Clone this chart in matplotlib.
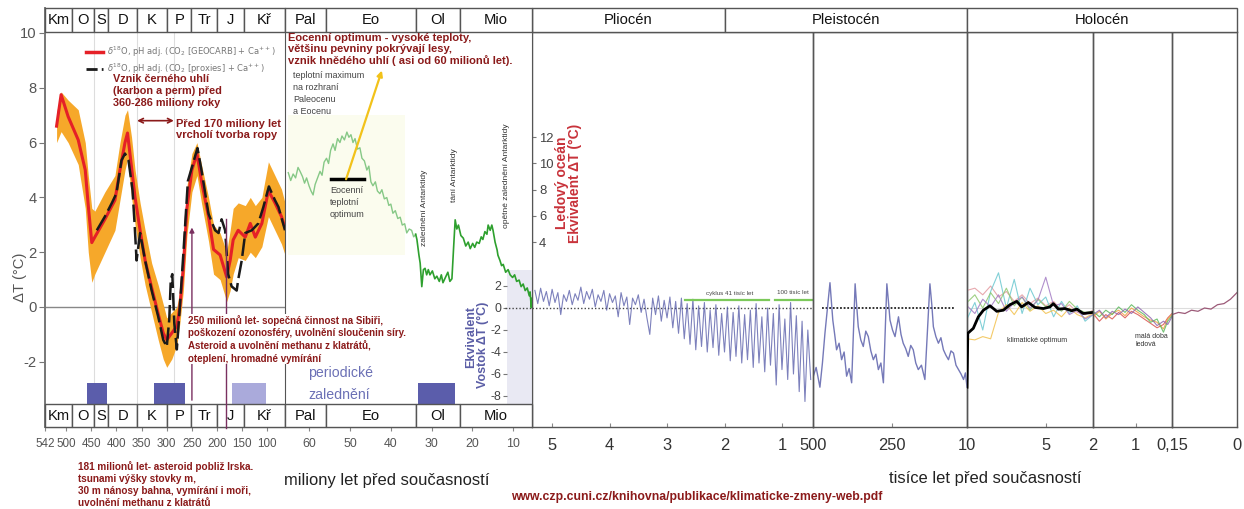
import matplotlib
matplotlib.use("Agg")
import matplotlib.pyplot as plt
import numpy as np
from matplotlib import font_manager as fm
from matplotlib.lines import Line2D
from matplotlib.patches import Rectangle
from matplotlib.transforms import blended_transform_factory

W, H = 1244, 509
plt.rcParams["axes.unicode_minus"] = False

# ---------------- data ----------------
# Phanerozoic panel (Ma, delta T in deg C)
PERIOD_EDGES = [542, 488, 444, 416, 359, 299, 251, 200, 146, 65]
PERIODS = ["Km", "O", "S", "D", "K", "P", "Tr", "J", "Kř"]
P1_TICKS = [542, 500, 450, 400, 350, 300, 250, 200, 150, 100]

RED_MA = [519, 510, 496, 476, 462, 456, 449, 443, 423, 403,
          393, 383, 378, 370, 363, 353, 343, 330, 317, 307,
          300, 290, 280, 274, 267, 260, 250, 240, 231, 217,
          207, 194, 181, 174, 168, 158, 144, 134, 124, 111,
          98, 85, 72, 65]
RED_T = [6.6, 7.75, 6.95, 6.1, 5.0, 3.7, 2.35, 2.55, 3.2, 3.9,
         5.0, 6.0, 6.35, 5.1, 4.0, 2.8, 1.7, 0.7, -0.25, -0.95,
         -1.2, -0.95, -0.7, 0.0, 1.45, 3.6, 5.0, 5.6, 4.6, 3.3,
         2.1, 1.9, 1.1, 1.7, 2.45, 2.8, 2.55, 3.05, 2.55, 3.05,
         4.25, 3.8, 3.3, 2.9]
BAND_HI = [7.1, 7.85, 7.55, 7.2, 6.0, 4.8, 3.6, 3.5, 4.2, 4.8,
           6.0, 7.0, 7.2, 6.2, 5.0, 3.8, 2.8, 1.6, 0.8, 0.1,
           -0.4, -0.2, 0.0, 0.6, 2.3, 4.4, 5.6, 6.0, 5.2, 4.0,
           3.0, 2.7, 2.0, 2.8, 3.6, 3.8, 3.7, 4.0, 3.7, 4.0,
           5.3, 4.8, 4.3, 3.8]
BAND_LO = [6.0, 6.4, 6.0, 5.2, 3.6, 2.0, 0.9, 1.2, 2.0, 2.8,
           3.9, 5.0, 5.4, 4.0, 3.0, 1.8, 0.8, -0.2, -1.2, -1.9,
           -2.2, -1.9, -1.4, -0.6, 0.6, 2.6, 4.2, 4.8, 3.8, 2.4,
           1.2, 1.0, 0.2, 0.6, 1.2, 1.8, 1.7, 2.0, 1.8, 2.2,
           3.3, 2.8, 2.3, 1.9]
BLK_MA = [439, 423, 409, 400, 390, 383, 376, 368, 364, 360,
          353, 343, 330, 317, 307, 300, 295, 292, 289, 285,
          280, 274, 267, 258, 250, 239, 231, 217, 204, 197,
          191, 184, 178, 171, 161, 158, 151, 144, 131, 118,
          108, 97, 85, 78, 65]
BLK_T = [2.8, 3.3, 3.8, 4.15, 5.35, 5.6, 5.35, 4.25, 3.05, 1.7,
         2.7, 1.7, 0.6, -0.35, -1.2, -1.45, -0.45, 1.0, 1.2, -0.6,
         -1.55, 0.0, 1.95, 4.6, 5.1, 5.8, 5.0, 3.4, 2.8, 2.7,
         3.2, 2.8, 1.2, 0.75, 0.6, 1.0, 1.7, 2.7, 2.8, 3.05,
         3.65, 4.4, 3.9, 3.65, 2.8]
GLACIAL_P1 = [(458, 419, "#5b5dab"), (325, 264, "#5b5dab"), (170, 103, "#aaaadb")]

# Cenozoic panel (Ma, deep ocean delta T)
EPOCH2_EDGES = [66, 56, 33.9, 23, 5.33]
EPOCHS2 = ["Pal", "Eo", "Ol", "Mio"]
P2_TICKS = [60, 50, 40, 30, 20, 10]
GREEN_MA = [65.2, 64.6, 64.0, 63.4, 62.8, 62.3, 61.7, 61.2, 60.7, 60.1,
            59.6, 59.1, 58.6, 58.0, 57.4, 56.9, 56.4, 55.8, 55.3, 54.8,
            54.2, 53.7, 53.1, 52.5, 52.0, 51.4, 50.8, 50.3, 49.8, 49.3,
            48.8, 48.2, 47.6, 47.1, 46.5, 45.9, 45.4, 44.9, 44.4, 43.8,
            43.3, 42.7, 42.2, 41.6, 41.0, 40.5, 40.0, 39.5, 38.9, 38.3,
            37.7, 37.2, 36.6, 36.1, 35.5, 34.9, 34.4, 33.9,
            33.6, 33.1, 32.8, 32.4, 32.0, 31.6, 31.2, 30.8, 30.4, 29.8,
            29.2, 28.7, 28.1, 27.6, 27.2, 26.6, 26.0, 25.5, 25.0, 24.6,
            24.2, 23.8, 23.4, 22.8, 22.2, 21.6, 21.0, 20.5, 19.9, 19.4,
            18.9, 18.3, 17.8, 17.4, 16.9, 16.4, 16.1, 15.6, 15.2, 14.9,
            14.4, 13.9, 13.7, 13.2, 12.8, 12.4, 11.8, 11.2, 10.7, 10.1,
            9.6, 9.1, 8.5, 8.0, 7.5, 7.0, 6.5, 6.0, 5.8, 5.5, 5.4]
GREEN_T = [9.3, 8.7, 9.2, 8.9, 9.7, 9.4, 9.0, 8.5, 8.9, 8.3,
           7.9, 7.6, 8.4, 8.9, 9.4, 9.1, 10.1, 10.4, 10.0, 11.0,
           11.5, 11.0, 11.9, 11.6, 12.1, 11.8, 12.4, 12.0, 12.2, 11.6,
           11.9, 11.1, 11.2, 10.4, 10.2, 9.5, 9.8, 8.6, 8.3, 8.6,
           7.9, 7.7, 8.0, 7.3, 7.4, 6.8, 6.9, 6.2, 6.4, 5.8,
           5.9, 5.3, 5.4, 4.7, 5.0, 4.9, 4.4, 4.6,
           4.2, 3.0, 2.4, 0.6, 1.9, 2.0, 1.5, 1.9, 1.5, 1.8,
           1.2, 1.4, 1.0, 1.5, 0.9, 1.3, 1.7, 1.0, 1.2, 3.5,
           5.7, 5.0, 5.3, 4.5, 4.3, 3.7, 4.0, 3.5, 3.9, 3.6,
           4.0, 3.9, 4.4, 4.2, 4.8, 4.6, 5.3, 4.9, 5.3, 4.9,
           4.0, 3.4, 3.0, 2.6, 2.2, 2.3, 1.7, 1.9, 1.5, 1.3,
           1.5, 1.0, 1.1, 0.6, 0.8, 0.3, 0.5, -0.1, 0.2, -1.0, -0.3]
N_PALE = 58  # points before the Oligocene glaciation (drawn paler)
OCEAN_TICKS = [4, 6, 8, 10, 12]
VOSTOK_TICKS = [2, 0, -2, -4, -6, -8]
GLACIAL_P2 = (33.3, 24.2)

# Pliocene / early Pleistocene (Ma, Vostok-equivalent delta T)
P3_TICKS = [5, 4, 3, 2, 1]
PLIO_T = [1.6, 0.4, 1.8, 0.6, 1.5, 0.2, 1.7, 0.5, 1.4, -0.6,
          1.2, 0.6, 1.6, 0.3, 1.3, 0.7, 1.9, 0.4, 1.5, 0.8,
          1.7, 0.1, 1.2, 0.6, 1.6, -0.2, 1.3, 0.5, 1.1, -0.8,
          1.4, 0.2, 1.0, -1.5, 0.9, 0.3, 1.2, -0.4, 0.8, -0.9,
          -2.4, 0.9, -0.6, 1.1, -1.2, 0.7, -0.9, 1.0, -1.8, 0.6,
          -2.3, 0.9, -2.8, 0.4, -3.3, 0.8, -3.8, 0.2, -3.5, 0.5,
          -4.0, -0.2, -3.6, 0.3, -4.3, -0.5, -4.0, 0.1, -4.8, -0.4,
          -4.4, 0.2, -5.0, -0.6, -4.7, -0.2, -5.4, 0.4, -5.0, -0.8,
          -5.8, 0.0, -5.2, -0.5, -7.0, 0.3, -5.6, -1.0, -6.5, 0.5,
          -6.0, -0.7, -7.6, -1.2, -8.5, -2.0, -6.5]

# Late Pleistocene (ka, Vostok delta T)
P4_TICKS = [500, 250]
P4_KA = [499, 490, 478, 470, 462, 446, 441, 437, 431, 425,
         417, 409, 401, 393, 385, 377, 366, 361, 356, 348,
         340, 332, 324, 316, 308, 300, 292, 284, 276, 265,
         260, 255, 247, 239, 228, 220, 213, 205, 197, 189,
         181, 173, 165, 155, 144, 128, 122, 117, 109, 101,
         93, 85, 77, 69, 61, 53, 45, 37, 29, 21,
         15, 10]
P4_T = [-6.2, -5.4, -7.2, -5.0, -2.3, 2.3, 0.4, -1.1, -2.4, -3.8,
        -3.2, -4.7, -4.0, -6.2, -5.5, -6.8, 2.2, 0.2, -1.7, -2.9,
        -3.5, -2.1, -2.6, -3.9, -4.7, -4.2, -5.6, -5.0, -6.8, 2.2,
        0.6, -1.1, -2.0, -2.6, -0.8, -2.4, -3.2, -3.7, -4.4, -3.4,
        -3.8, -5.0, -5.6, -5.2, -6.5, 2.2, 0.3, -1.7, -2.6, -3.2,
        -2.7, -3.8, -4.3, -4.7, -3.9, -4.1, -5.2, -5.6, -6.0, -6.5,
        -5.9, -7.2]

# Holocene (ka)
P5_TICKS = [10, 5]
P6_TICKS = [2, 1]
P7_TICKS = [0.15, 0]
P7_LABELS = ["0,15", "0"]
HOLO_BLACK_KA = [10.0, 9.95, 9.6, 9.28, 8.96, 8.54, 8.11, 7.69, 7.27, 6.84,
                 6.53, 6.11, 5.68, 5.15, 4.73, 4.52, 4.2, 3.78, 3.35, 3.03,
                 2.62, 2.0]
HOLO_BLACK_T = [-7.2, -2.3, -1.85, -0.8, -0.2, 0.2, -0.3, -0.2, 0.3, 0.6,
                0.1, 0.5, 0.05, -0.05, 0.1, 0.4, -0.1, -0.05, -0.25, -0.1,
                -0.5, -0.4]
HOLO5_KA = [10, 9.5, 9, 8.5, 8, 7.5, 7, 6.5, 6, 5.5, 5, 4.5, 4, 3.5, 3, 2.5, 2]
HOLO5_SERIES = {
    "#e39aa0": [1.6, 1.8, 1.2, 2.0, 1.0, 1.5, 0.6, 1.2, 0.4, 0.9, 0.2, 0.6, -0.2, 0.3, -0.4, -0.6, -0.2],
    "#6cc8d0": [-1.0, 0.5, -2.0, 1.5, 3.2, 0.0, 2.6, -0.5, 1.8, 0.3, 1.0, -0.8, 0.6, -0.5, 0.2, -1.2, -0.6],
    "#f2c14e": [-2.8, -2.9, -2.6, -2.8, -0.4, 0.3, -0.6, 0.5, -0.3, 0.2, -0.5, -0.2, -0.8, 0.0, -0.6, -0.9, -0.5],
    "#8ec86e": [0.5, 1.2, 0.0, 1.4, 0.4, 1.8, 0.2, 1.0, -0.2, 0.8, 0.1, 0.4, -0.3, 0.6, -0.1, -0.4, -0.3],
    "#a37cc4": [0.2, -0.5, 0.8, 0.1, 1.2, -0.3, 0.5, 1.0, 0.0, 0.7, 2.8, 0.2, 0.4, -0.6, -0.2, -1.0, -0.6],
}
HOLO6_KA = [2.0, 1.85, 1.7, 1.55, 1.4, 1.25, 1.1, 0.95, 0.8, 0.65, 0.5, 0.35, 0.25, 0.15]
HOLO6_SERIES = {
    "#d9534f": [-0.5, -1.2, -0.6, -1.0, -0.4, -0.9, -0.3, -0.6, -1.0, -1.4, -1.8, -1.5, -0.9, -0.5],
    "#f0a040": [-0.8, -0.3, -1.0, -0.5, -0.2, -0.7, 0.0, -0.4, -0.8, -1.1, -1.3, -1.9, -1.0, -0.6],
    "#5cb85c": [-0.3, -0.8, -0.2, -0.6, 0.1, -0.4, 0.3, -0.2, -0.6, -1.3, -1.0, -2.2, -1.2, -0.7],
    "#9068b0": [-0.6, -0.2, -0.9, -0.3, -0.6, -0.1, -0.5, 0.1, -0.4, -0.9, -1.6, -1.2, -1.5, -0.8],
}
HOLO7_KA = [0.15, 0.135, 0.12, 0.105, 0.09, 0.075, 0.06, 0.045, 0.03, 0.015, 0.0]
HOLO7_T = [-0.6, -0.4, -0.5, -0.2, -0.3, 0.0, -0.1, 0.3, 0.4, 0.8, 1.4]

EPOCHS3 = ["Pliocén", "Pleistocén", "Holocén"]


# ---------------- fonts / helpers ----------------
def have_font(name):
    try:
        fm.findfont(fm.FontProperties(family=name), fallback_to_default=False)
        return True
    except ValueError:
        return False


NARROW_OK = have_font("Liberation Sans Narrow")
NARROW = ["Liberation Sans Narrow", "DejaVu Sans"] if NARROW_OK else ["Liberation Sans", "DejaVu Sans"]
NS = 1.0 if NARROW_OK else 0.85
SANS = ["Liberation Sans", "DejaVu Sans"]
DARKRED = "#8b1a1a"
EDGE = "#555555"

fig = plt.figure(figsize=(W / 100, H / 100), dpi=100)


def axes_px(x0, x1, y0, y1):
    return fig.add_axes([x0 / W, 1 - y1 / H, (x1 - x0) / W, (y1 - y0) / H])


def ftext(x, y, s, **kw):
    kw.setdefault("family", SANS)
    return fig.text(x / W, 1 - y / H, s, **kw)


def ylim_px(zero_px, per_unit, top, bottom):
    return ((zero_px - bottom) / per_unit, (zero_px - top) / per_unit)


def strip(ax, edges, labels, f0, f1, fs):
    tr = blended_transform_factory(ax.transData, ax.transAxes)
    for a, b, lab in zip(edges[:-1], edges[1:], labels):
        ax.add_patch(Rectangle((a, f0), b - a, f1 - f0, transform=tr, facecolor="white",
                               edgecolor=EDGE, lw=1.0, clip_on=False, zorder=5))
        ax.text((a + b) / 2, (f0 + f1) / 2, lab, transform=tr, ha="center", va="center",
                fontsize=fs, family=NARROW, color="#111", zorder=6, clip_on=False)


def xticks(ax, ticks, labels, size, color, direction="out", pad=5):
    ax.set_xticks(ticks)
    ax.set_xticklabels(labels)
    ax.tick_params(axis="x", direction=direction, length=3, color="#888",
                   labelsize=size, labelcolor=color, pad=pad)
    for t in ax.get_xticklabels():
        t.set_family(NARROW)


# ---------------- panel 1: Phanerozoic ----------------
ax1 = axes_px(45, 285, 8, 427)
ax1.set_xlim(542, 65)
ax1.set_ylim(*ylim_px(307, 27.4, 8, 427))
ax1.spines["top"].set_visible(False)
ax1.spines["left"].set_color("#777")
ax1.spines["left"].set_linewidth(1.4)
ax1.spines["bottom"].set_color(EDGE)
ax1.spines["right"].set_color(EDGE)
ax1.set_yticks([-2, 0, 2, 4, 6, 8, 10])
ax1.tick_params(axis="y", direction="out", length=4, color="#777",
                labelsize=12.5 * NS, labelcolor="#555", pad=2)
for t in ax1.get_yticklabels():
    t.set_family(NARROW)
xticks(ax1, P1_TICKS, [str(v) for v in P1_TICKS], 9.8 * NS, "#555", pad=5)

ax1.axhline(0, color="#888", lw=1.0, zorder=1)
for ma in [444, 359, 286]:
    ax1.axvline(ma, color="#dddddd", lw=0.8, zorder=0)
ax1.fill_between(RED_MA, BAND_LO, BAND_HI, color="#f6a82a", lw=0, zorder=2)
ax1.plot(RED_MA, RED_T, color="#e52027", lw=2.2, zorder=3)
ax1.plot(BLK_MA, BLK_T, color="#1a1a1a", lw=1.8, dashes=(7, 2), zorder=4)
for a, b, c in GLACIAL_P1:
    ax1.axvspan(a, b, ymin=23 / 419, ymax=44 / 419, color=c, lw=0, zorder=2)
strip(ax1, PERIOD_EDGES, PERIODS, (427 - 32) / 419, 1.0, 12.5 * NS)
strip(ax1, PERIOD_EDGES, PERIODS, 0.0, 23 / 419, 12.5 * NS)

# annotations tied to ages
ax1.annotate("", xy=(286, 6.8), xytext=(359, 6.8),
             arrowprops=dict(arrowstyle="<->", color=DARKRED, lw=1.2, shrinkA=0, shrinkB=0,
                             mutation_scale=8))
ax1.annotate("", xy=(250, 2.9), xytext=(250, -3.4),
             arrowprops=dict(arrowstyle="-|>", color="#7a3060", lw=1.0, shrinkA=0, shrinkB=0,
                             mutation_scale=7), zorder=7)
ax1.plot([183, 183], [3.2, -4.4], color="#7a3060", lw=1.0, zorder=7, clip_on=False)

handles = [Line2D([], [], color="#e52027", lw=2.5),
           Line2D([], [], color="#1a1a1a", lw=2.0, dashes=(4, 1.5))]
labels = [r"$\delta^{18}$O, pH adj. (CO$_2$ [GEOCARB] + Ca$^{++}$)",
          r"$\delta^{18}$O, pH adj. (CO$_2$ [proxies] + Ca$^{++}$)"]
ax1.legend(handles, labels, loc="upper left", bbox_to_anchor=(0.17, 0.912), frameon=False,
           fontsize=6.0, handlelength=2.1, labelspacing=0.25, borderpad=0, borderaxespad=0,
           handletextpad=0.4, labelcolor="#777")

# ---------------- panel 2: Cenozoic ----------------
ax2 = axes_px(285, 532, 8, 427)
ax2.set_xlim(66, 5.33)
ax2.set_ylim(*ylim_px(294.5, 13.1, 8, 427))
ax2.set_facecolor("none")
ax2.set_zorder(3)
for s in ["top", "left"]:
    ax2.spines[s].set_visible(False)
ax2.spines["bottom"].set_color(EDGE)
ax2.spines["right"].set_color(EDGE)
ax2.yaxis.tick_right()
ax2.set_yticks(OCEAN_TICKS)
ax2.tick_params(axis="y", direction="out", length=3, color="#777",
                labelsize=11 * NS, labelcolor="#444", pad=2)
for t in ax2.get_yticklabels():
    t.set_family(NARROW)
xticks(ax2, P2_TICKS, [str(v) for v in P2_TICKS], 10.5 * NS, "#555", pad=5)

ax2.add_patch(Rectangle((65.3, 3.0), 36.5 - 65.3, 10.7, color="#fbfcee", lw=0, zorder=0))
ax2.plot(GREEN_MA[:N_PALE], GREEN_T[:N_PALE], color="#86c886", lw=1.0, zorder=3)
ax2.plot(GREEN_MA[N_PALE - 1:], GREEN_T[N_PALE - 1:], color="#2ea02e", lw=1.2, zorder=3)
ax2.axvspan(*GLACIAL_P2, ymin=23 / 419, ymax=44 / 419, color="#5b5dab", lw=0, zorder=2)
ax2.plot([54.7, 46.6], [8.8, 8.8], color="black", lw=2.5, zorder=4)
ax2.annotate("", xy=(42.2, 17.1), xytext=(51.0, 8.8),
             arrowprops=dict(arrowstyle="-|>", color="#f2c21a", lw=1.6, shrinkA=0, shrinkB=0,
                             mutation_scale=8), zorder=4)
strip(ax2, EPOCH2_EDGES, EPOCHS2, (427 - 32) / 419, 1.0, 12.5 * NS)
strip(ax2, EPOCH2_EDGES, EPOCHS2, 0.0, 23 / 419, 12.5 * NS)

# Vostok scale inside panel 2
VOST_LIM = ylim_px(308, 11, 32, 427)
axv = axes_px(507, 532, 32, 427)
axv.set_zorder(2)
axv.set_xlim(0, 1)
axv.set_ylim(*VOST_LIM)
for s in axv.spines.values():
    s.set_visible(False)
axv.axhspan(-9.5, 3.45, color="#e9e9f3", lw=0)
axv.plot([-0.1, 1], [0, 0], color="#444", lw=1.0, ls=(0, (1, 1.5)), clip_on=False)
axv.set_xticks([])
axv.set_yticks(VOSTOK_TICKS)
axv.tick_params(axis="y", direction="out", length=3, color="#777",
                labelsize=10.5 * NS, labelcolor="#444", pad=1)
for t in axv.get_yticklabels():
    t.set_family(NARROW)


# ---------------- right panels ----------------
def right_panel(x0, x1, xlim, ticks, labels):
    ax = axes_px(x0, x1, 32, 427)
    ax.set_xlim(*xlim)
    ax.set_ylim(*VOST_LIM)
    ax.set_facecolor("none")
    for s in ax.spines.values():
        s.set_color(EDGE)
        s.set_linewidth(1.0)
    ax.set_yticks([])
    xticks(ax, ticks, labels, 14 * NS, "#333", direction="in", pad=8)
    return ax


ax3 = right_panel(532, 813, (5.35, 0.46), P3_TICKS, [str(v) for v in P3_TICKS])
ax4 = right_panel(813, 967, (500, 10), P4_TICKS, [str(v) for v in P4_TICKS])
ax5 = right_panel(967, 1093, (10, 2), P5_TICKS, [str(v) for v in P5_TICKS])
ax6 = right_panel(1093, 1172, (2, 0.15), P6_TICKS, [str(v) for v in P6_TICKS])
ax7 = right_panel(1172, 1237, (0.15, 0), P7_TICKS, P7_LABELS)

plio_ma = np.linspace(5.30, 0.50, len(PLIO_T))
ax3.axhline(0, color="#444", lw=1.0, ls=(0, (1, 1.5)), zorder=1)
ax3.plot(plio_ma, PLIO_T, color="#5257a6", lw=0.8, alpha=0.75, zorder=2)
ax3.plot([2.69, 1.23], [0.73, 0.73], color="#7cc95a", lw=1.6)
ax3.plot([1.12, 0.46], [0.73, 0.73], color="#7cc95a", lw=1.6)

ax4.hlines(0, 471, 47, color="#222", lw=1.3, linestyles=(0, (1, 1)), zorder=1)
ax4.plot(P4_KA, P4_T, color="#5257a6", lw=1.0, alpha=0.8, zorder=2)

for ax in (ax5, ax6, ax7):
    ax.axhline(0, color="#dddddd", lw=0.8, zorder=0)
for c, vals in HOLO5_SERIES.items():
    ax5.plot(HOLO5_KA, vals, color=c, lw=0.8, alpha=0.85, zorder=1)
ax5.plot(HOLO_BLACK_KA, HOLO_BLACK_T, color="black", lw=2.0, zorder=3)
for c, vals in HOLO6_SERIES.items():
    ax6.plot(HOLO6_KA, vals, color=c, lw=0.8, alpha=0.85, zorder=1)
ax7.plot(HOLO7_KA, HOLO7_T, color="#9c5a78", lw=0.9, zorder=1)

# epoch header across the right panels
fig.canvas.draw()


def fig_x(ax, v):
    return ax.transData.transform((v, 0))[0]


header = [(fig_x(ax3, 5.35), fig_x(ax3, 2.0)),
          (fig_x(ax3, 2.0), fig_x(ax4, 10)),
          (fig_x(ax5, 10), fig_x(ax7, 0))]
for (a, b), lab in zip(header, EPOCHS3):
    fig.add_artist(Rectangle((a / W, 1 - 32 / H), (b - a) / W, 24 / H, transform=fig.transFigure,
                             facecolor="white", edgecolor=EDGE, lw=1.0))
    ftext((a + b) / 2, 20, lab, ha="center", va="center", fontsize=12.5 * NS,
          family=NARROW, color="#111")

# ---------------- texts ----------------
ftext(20, 277, "ΔT (°C)", rotation=90, ha="center", va="center", fontsize=12.5 * NS,
      family=NARROW, color="#555")
ftext(113, 74, "Vznik černého uhlí\n(karbon a perm) před\n360-286 miliony roky",
      va="top", fontsize=7.8, weight="bold", color=DARKRED, linespacing=1.25)
ftext(176, 119, "Před 170 miliony let\nvrcholí tvorba ropy", va="top", fontsize=8,
      weight="bold", color=DARKRED, linespacing=1.1)
ftext(188, 315, "250 milionů let- sopečná činnost na Sibiři,\n"
                "poškození ozonosféry, uvolnění sloučenin síry.\n"
                "Asteroid a uvolnění methanu z klatrátů,\n"
                "oteplení, hromadné vymírání",
      va="top", fontsize=7, weight="bold", color=DARKRED, linespacing=1.3,
      bbox=dict(facecolor="white", edgecolor="none", pad=0.5))
ftext(78, 461, "181 milionů let- asteroid pobliž Irska.\ntsunami výšky stovky m,\n"
               "30 m nánosy bahna, vymírání i moři,\nuvolnění methanu z klatrátů",
      va="top", fontsize=7.2, weight="bold", color=DARKRED, linespacing=1.25)
ftext(288, 33, "Eocenní optimum - vysoké teploty,\nvětšinu pevniny pokrývají lesy,\n"
               "vznik hnědého uhlí ( asi od 60 milionů let).",
      va="top", fontsize=8, weight="bold", color=DARKRED, linespacing=1.12)
ftext(293, 71, "teplotní maximum\nna rozhraní\nPaleocenu\na Eocenu", va="top",
      fontsize=6.5, color="#444", linespacing=1.45)
ftext(330, 186, "Eocenní\nteplotní\noptimum", va="top", fontsize=6.5, color="#444",
      linespacing=1.4)
ftext(425, 208, "zalednění Antarktidy", rotation=90, ha="center", va="center",
      fontsize=6, color="#333")
ftext(455, 175, "tání Antarktidy", rotation=90, ha="center", va="center",
      fontsize=6, color="#333")
ftext(507, 176, "opětné zalednění Antarktidy", rotation=90, ha="center", va="center",
      fontsize=6, color="#333")
ftext(308, 373, "periodické", va="center", fontsize=12 * NS, family=NARROW, color="#6b70b5")
ftext(308, 395, "zalednění", va="center", fontsize=12 * NS, family=NARROW, color="#6b70b5")
ftext(471, 337, "Ekvivalent", rotation=90, ha="center", va="center", fontsize=9,
      weight="bold", color="#5b5ea6")
ftext(483, 345, "Vostok ΔT (°C)", rotation=90, ha="center", va="center", fontsize=9,
      weight="bold", color="#5b5ea6")
ftext(562, 183, "Ledový oceán", rotation=90, ha="center", va="center", fontsize=10,
      weight="bold", color="#c8323a")
ftext(575, 183, "Ekvivalent ΔT (°C)", rotation=90, ha="center", va="center", fontsize=10,
      weight="bold", color="#c8323a")
ftext(730, 293, "cyklus 41 tisíc let", ha="center", va="center", fontsize=4.5, color="#444")
ftext(793, 293, "100 tisíc let", ha="center", va="center", fontsize=4.5, color="#444")
ftext(1037, 340, "klimatické optimum", ha="center", va="center", fontsize=5, color="#333")
ftext(1135, 333, "malá doba\nledová", va="top", fontsize=5, color="#333", linespacing=1.3)
ftext(387, 480, "miliony let před současností", ha="center", va="center",
      fontsize=14 * NS, family=NARROW, color="#222")
ftext(985, 479, "tisíce let před současností", ha="center", va="center",
      fontsize=14 * NS, family=NARROW, color="#222")
ftext(697, 497, "www.czp.cuni.cz/knihovna/publikace/klimaticke-zmeny-web.pdf",
      ha="center", va="center", fontsize=8.8, weight="bold", color=DARKRED)

fig.savefig("out.png", dpi=100)
